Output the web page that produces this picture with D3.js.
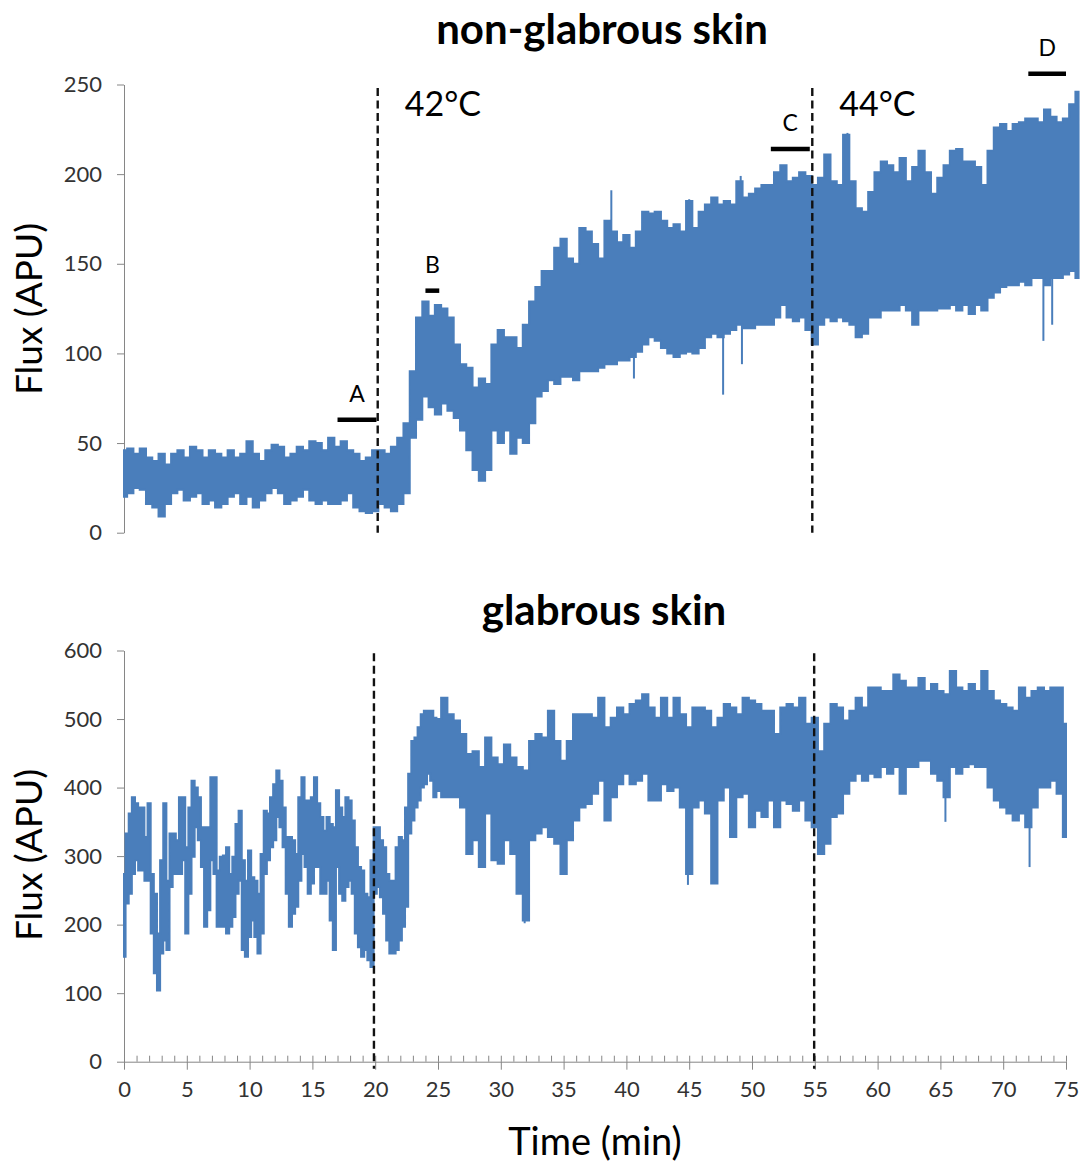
<!DOCTYPE html>
<html>
<head>
<meta charset="utf-8">
<script src="https://cdn.jsdelivr.net/npm/d3@7"></script>
<style>
  html, body { margin: 0; padding: 0; background: #fff; }
  svg { display: block; }
  text { font-family: Lato, "Open Sans", sans-serif; }
</style>
</head>
<body>
<script>
// ---------------- DATA ----------------
// Non-glabrous skin: time (min), upper and lower envelope of the flux trace (APU)
const topTime = [0,0.5,1,1.5,2,2.5,3,3.5,4,4.5,5,5.5,6,6.5,7,7.5,8,8.5,9,9.5,10,10.5,11,11.5,12,12.5,13,13.5,14,14.5,15,15.5,16,16.5,17,17.5,18,18.5,19,19.5,20,20.5,21,21.5,22,22.5,23,23.5,24,24.5,25,25.5,26,26.5,27,27.5,28,28.5,29,29.5,30,30.5,31,31.5,32,32.5,33,33.5,34,34.5,35,35.5,36,36.5,37,37.5,38,38.5,39,39.5,40,40.5,41,41.5,42,42.5,43,43.5,44,44.5,45,45.5,46,46.5,47,47.5,48,48.5,49,49.5,50,50.5,51,51.5,52,52.5,53,53.5,54,54.5,55,55.5,56,56.5,57,57.5,58,58.5,59,59.5,60,60.5,61,61.5,62,62.5,63,63.5,64,64.5,65,65.5,66,66.5,67,67.5,68,68.5,69,69.5,70,70.5,71,71.5,72,72.5,73,73.5,74,74.5,75,75.5,76];
const topHi = [46,47,44,47,42,40,44,38,44,46,42,48,46,42,46,44,42,46,42,44,51,44,40,46,49,48,42,44,48,46,51,50,46,53,48,51,46,44,40,42,46,46,44,48,53,61,90,120,129,121,127,125,120,105,94,92,81,86,83,105,113,109,109,103,116,129,137,146,146,159,164,153,150,170,168,161,153,174,168,162,166,159,168,179,178,179,174,170,172,168,185,170,179,183,187,183,185,183,196,187,189,192,194,194,201,205,196,198,201,199,194,198,211,196,194,222,196,181,179,190,201,207,205,201,209,196,204,213,201,189,198,205,213,214,207,207,204,194,213,226,228,224,228,229,231,231,229,236,232,229,231,239,246];
const topLo = [20,22,25,24,16,14,9,16,22,24,18,20,22,16,18,14,16,20,22,16,20,14,18,22,25,22,16,18,20,24,18,16,18,16,16,18,22,14,12,11,12,16,14,12,16,22,53,63,76,70,66,72,68,64,57,46,35,29,35,57,50,57,44,53,50,61,76,79,85,83,87,87,85,90,90,90,92,94,94,96,96,98,101,105,109,107,103,100,98,100,101,100,103,109,111,109,111,113,116,114,114,116,116,116,120,127,120,118,120,113,105,116,120,118,120,118,116,109,111,120,120,124,124,124,127,124,116,124,124,124,125,125,127,124,127,122,127,124,131,134,137,138,138,140,138,142,142,138,142,142,144,146,142];
// isolated single-sample spikes (time, value)
const topSpikeTime = [38.8, 49.1, 57.6, 45.0, 47.7, 49.2, 73.2, 73.9, 40.6];
const topSpikeValue = [191, 199, 223, 186, 77, 94, 107, 116, 86];

// Glabrous skin
const botTime = [0,0.25,0.5,0.75,1,1.25,1.5,1.75,2,2.25,2.5,2.75,3,3.25,3.5,3.75,4,4.25,4.5,4.75,5,5.25,5.5,5.75,6,6.25,6.5,6.75,7,7.25,7.5,7.75,8,8.25,8.5,8.75,9,9.25,9.5,9.75,10,10.25,10.5,10.75,11,11.25,11.5,11.75,12,12.25,12.5,12.75,13,13.25,13.5,13.75,14,14.25,14.5,14.75,15,15.25,15.5,15.75,16,16.25,16.5,16.75,17,17.25,17.5,17.75,18,18.25,18.5,18.75,19,19.25,19.5,19.75,20,20.25,20.5,20.75,21,21.25,21.5,21.75,22,22.25,22.5,22.75,23,23.25,23.5,23.75,24,24.25,24.5,24.75,25,25.5,26,26.5,27,27.5,28,28.5,29,29.5,30,30.5,31,31.5,32,32.5,33,33.5,34,34.5,35,35.5,36,36.5,37,37.5,38,38.5,39,39.5,40,40.5,41,41.5,42,42.5,43,43.5,44,44.5,45,45.5,46,46.5,47,47.5,48,48.5,49,49.5,50,50.5,51,51.5,52,52.5,53,53.5,54,54.5,55,55.5,56,56.5,57,57.5,58,58.5,59,59.5,60,60.5,61,61.5,62,62.5,63,63.5,64,64.5,65,65.5,66,66.5,67,67.5,68,68.5,69,69.5,70,70.5,71,71.5,72,72.5,73,73.5,74,74.5,75];
const botHi = [274,333,362,386,377,371,371,328,377,274,245,187,294,377,264,333,333,323,386,386,313,371,410,400,386,342,342,342,415,415,279,299,301,313,274,299,347,366,294,264,308,269,264,245,303,366,362,386,405,425,410,371,328,328,323,303,386,415,381,381,386,415,377,357,337,357,347,342,396,371,357,386,381,352,313,284,279,245,240,294,342,342,323,313,274,264,264,313,328,323,371,420,468,473,488,507,512,512,512,502,500,531,507,498,478,449,453,430,473,444,434,463,444,430,425,468,478,473,512,468,439,468,507,507,507,502,531,488,502,517,507,522,527,536,517,502,531,502,531,507,488,517,517,512,488,502,522,517,507,531,527,522,512,512,478,517,522,517,531,493,502,453,493,522,517,498,512,531,517,546,546,541,541,565,556,546,546,560,541,551,541,536,570,546,541,551,541,570,541,527,522,517,512,546,531,541,546,541,546,546,493];
const botLo = [153,231,245,274,294,279,279,264,264,187,129,104,158,177,163,255,274,274,274,294,187,245,299,342,323,284,197,221,294,274,197,197,197,187,197,211,245,264,163,153,182,206,182,158,187,274,294,313,323,357,342,313,245,197,216,226,264,303,284,245,260,284,284,245,245,264,206,163,284,245,235,255,264,245,187,167,153,163,148,138,245,255,240,216,177,158,158,163,177,197,226,333,352,371,381,400,405,420,410,386,395,386,386,386,371,303,323,284,362,294,289,323,303,245,206,323,333,342,328,318,274,323,352,371,376,391,410,352,386,405,420,405,410,420,381,381,405,395,400,371,274,371,381,362,260,381,400,328,386,391,342,366,357,381,342,381,376,366,381,352,342,303,318,357,362,391,410,420,410,420,415,430,420,430,391,430,430,439,439,420,410,386,430,420,430,434,430,430,400,381,371,362,352,362,342,371,400,400,410,391,328];
const botSpikeTime = [72.1, 44.9, 31.9, 65.4];
const botSpikeValue = [284, 258, 202, 350];

// Stimulus onsets (min, as drawn in each panel) and their labels
const topOnsetTimes = [20.2, 54.8];
const botOnsetTimes = [19.9, 54.95];
const onsetLabels = ["42\u00B0C", "44\u00B0C"];

// Analysis windows marked on the top panel
const periodLabels = ["A", "B", "C", "D"];
const periodStart = [17, 24, 51.5, 72];
const periodEnd = [20.1, 25.1, 54.6, 75];
const periodLevel = [63, 135, 214, 256];

// Axis ticks
const topYTicks = [0, 50, 100, 150, 200, 250];
const botYTicks = [0, 100, 200, 300, 400, 500, 600];
const xMajorTicks = [0,5,10,15,20,25,30,35,40,45,50,55,60,65,70,75];
const xMinorTicks = [0,1,2,3,4,5,6,7,8,9,10,11,12,13,14,15,16,17,18,19,20,21,22,23,24,25,26,27,28,29,30,31,32,33,34,35,36,37,38,39,40,41,42,43,44,45,46,47,48,49,50,51,52,53,54,55,56,57,58,59,60,61,62,63,64,65,66,67,68,69,70,71,72,73,74,75];

// ---------------- DRAWING ----------------
const W = 1086, H = 1168;
const LINE = "#4a7ebb", AXIS = "#868686", TXT = "#333";
const svg = d3.select("body").append("svg").attr("width", W).attr("height", H);
svg.append("rect").attr("width", W).attr("height", H).attr("fill", "#fff");

const x = d3.scaleLinear().domain([0, 75]).range([124, 1066]);
const yTop = d3.scaleLinear().domain([0, 250]).range([532.7, 84.5]);
const yBot = d3.scaleLinear().domain([0, 600]).range([1061.7, 650.5]);

function yAxis(g, scale, ticks) {
  const ax = d3.axisLeft(scale).tickValues(ticks).tickSize(7).tickPadding(15).tickSizeOuter(0);
  g.attr("transform", "translate(124,0)").call(ax);
  g.select(".domain").attr("stroke", AXIS).attr("stroke-width", 1);
  g.selectAll(".tick line").attr("stroke", AXIS);
  g.selectAll(".tick text").attr("fill", TXT).style("font-size", "22px")
    .style("font-family", "Lato, sans-serif");
}

function trace(g, scale, t, hi, lo, sT, sV) {
  const area = d3.area().curve(d3.curveStep)
    .x((d, i) => x(t[i])).y0((d, i) => scale(lo[i])).y1((d, i) => scale(hi[i]));
  g.append("path").datum(t).attr("d", area).attr("fill", LINE)
    .attr("stroke", LINE).attr("stroke-width", 2).attr("stroke-linejoin", "miter");
  sT.forEach((st, k) => {
    const i = d3.minIndex(t, v => Math.abs(v - st));
    const from = sV[k] > hi[i] ? hi[i] : (sV[k] < lo[i] ? lo[i] : sV[k]);
    g.append("line").attr("x1", x(st)).attr("x2", x(st))
      .attr("y1", scale(from)).attr("y2", scale(sV[k]))
      .attr("stroke", LINE).attr("stroke-width", 2);
  });
}

// ---- top panel ----
const gTop = svg.append("g");
gTop.append("text").attr("x", 602).attr("y", 44).attr("text-anchor", "middle")
  .style("font-size", "42px").style("font-weight", "bold").attr("fill", "#000").text("non-glabrous skin");
yAxis(gTop.append("g"), yTop, topYTicks);
trace(gTop.append("g"), yTop, topTime, topHi, topLo, topSpikeTime, topSpikeValue);
gTop.append("text").attr("transform", "translate(42,309) rotate(-90)").attr("text-anchor", "middle")
  .style("font-size", "37px").attr("fill", "#000").text("Flux (APU)");

topOnsetTimes.forEach((t, i) => {
  gTop.append("line").attr("x1", x(t)).attr("x2", x(t))
    .attr("y1", yTop(248)).attr("y2", yTop(0))
    .attr("stroke", "#111").attr("stroke-width", 2.4).attr("stroke-dasharray", "8,4.5");
  gTop.append("text").attr("x", x(t) + 27).attr("y", 116)
    .style("font-size", "34px").attr("fill", "#000").text(onsetLabels[i]);
});

periodLabels.forEach((lab, i) => {
  gTop.append("line").attr("x1", x(periodStart[i])).attr("x2", x(periodEnd[i]))
    .attr("y1", yTop(periodLevel[i])).attr("y2", yTop(periodLevel[i]))
    .attr("stroke", "#000").attr("stroke-width", 4.5);
  gTop.append("text").attr("x", (x(periodStart[i]) + x(periodEnd[i])) / 2)
    .attr("y", yTop(periodLevel[i]) - 18).attr("text-anchor", "middle")
    .style("font-size", "23px").attr("fill", "#000").text(lab);
});

// ---- bottom panel ----
const gBot = svg.append("g");
gBot.append("text").attr("x", 604).attr("y", 625).attr("text-anchor", "middle")
  .style("font-size", "42px").style("font-weight", "bold").attr("fill", "#000").text("glabrous skin");
yAxis(gBot.append("g"), yBot, botYTicks);

const gx = gBot.append("g").attr("transform", "translate(0,1061.7)");
gx.call(d3.axisBottom(x).tickValues(xMinorTicks).tickSize(-6).tickFormat("").tickSizeOuter(0));
gx.call(g => g.selectAll(".tick line").attr("stroke", AXIS));
gx.select(".domain").attr("stroke", AXIS);
const gx2 = gBot.append("g").attr("transform", "translate(0,1061.7)");
gx2.call(d3.axisBottom(x).tickValues(xMajorTicks).tickSize(8).tickPadding(12).tickSizeOuter(0));
gx2.select(".domain").remove();
gx2.selectAll(".tick line").attr("stroke", AXIS);
gx2.selectAll(".tick text").attr("fill", TXT).style("font-size", "22px").style("font-family", "Lato, sans-serif");

trace(gBot.append("g"), yBot, botTime, botHi, botLo, botSpikeTime, botSpikeValue);

botOnsetTimes.forEach(t => {
  gBot.append("line").attr("x1", x(t)).attr("x2", x(t))
    .attr("y1", yBot(596)).attr("y2", yBot(0) + 7)
    .attr("stroke", "#111").attr("stroke-width", 2.4).attr("stroke-dasharray", "8,4.5");
});

gBot.append("text").attr("transform", "translate(42,855) rotate(-90)").attr("text-anchor", "middle")
  .style("font-size", "37px").attr("fill", "#000").text("Flux (APU)");
gBot.append("text").attr("x", 595).attr("y", 1155).attr("text-anchor", "middle")
  .style("font-size", "38px").attr("fill", "#000").text("Time (min)");
</script>
</body>
</html>
